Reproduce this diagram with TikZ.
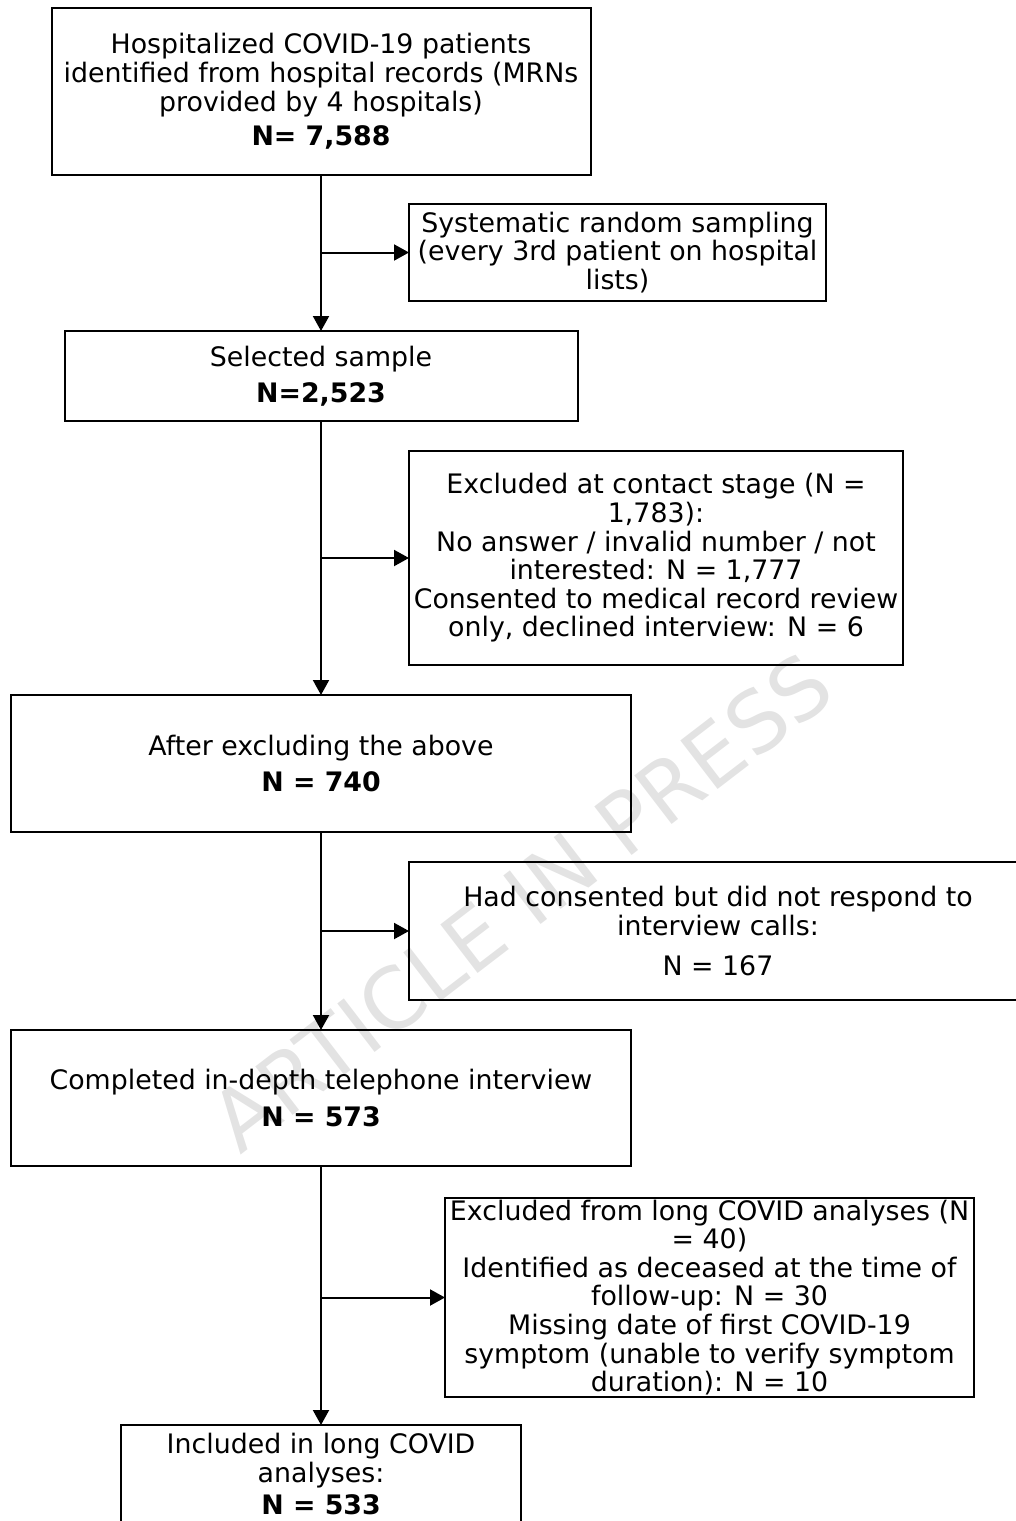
\documentclass[tikz,border=0pt]{standalone}
\usepackage{fontspec}
\setmainfont{DejaVu Sans}
\usetikzlibrary{positioning,arrows.meta}
\tikzset{
  box/.style={draw, line width=1pt, inner sep=0pt, outer sep=0pt, align=center,
    font=\fontsize{13.4}{14.3}\selectfont},
  arr/.style={line width=1pt, -{Triangle[length=7.5pt,width=8pt]}},
  mark text/.style={text=black!11, rotate=37.5, font=\fontsize{42}{42}\selectfont},
}
\begin{document}
\begin{tikzpicture}[x=0.5pt,y=-0.5pt]
\useasboundingbox (0,0) rectangle (1016,1521);
\node[mark text] (wmark) at (521,902) {ARTICLE IN PRESS};

\node[box, minimum width=269.5pt, minimum height=83.5pt] (hosp) at (321,91.5) {Hospitalized COVID-19 patients\\identified from hospital records (MRNs\\provided by 4 hospitals)\\[3pt]\textbf{N= 7,588}};
\node[box, minimum width=208.5pt, minimum height=48.5pt] (samp) at (617.5,252.5) {Systematic random sampling\\(every 3rd patient on hospital\\lists)};
\node[box, minimum width=256.5pt, minimum height=45pt] (sel) at (321,376) {Selected sample\\[3.5pt]\textbf{N=2,523}};
\node[box, minimum width=247pt, minimum height=107pt] (excl) at (656,558) {Excluded at contact stage (N =\\1,783):\\No answer / invalid number / not\\interested: N = 1,777\\Consented to medical record review\\only, declined interview: N = 6};
\node[box, minimum width=310pt, minimum height=68.5pt] (after) at (321,763.5) {After excluding the above\\[4pt]\textbf{N = 740}};
\node[box, minimum width=309pt, minimum height=69pt] (nores) at (718,931) {Had consented but did not respond to\\interview calls:\\[6pt]N = 167};
\node[box, minimum width=310pt, minimum height=68pt] (comp) at (321,1098) {Completed in-depth telephone interview\\[4.5pt]\textbf{N = 573}};
\node[box, minimum width=264.5pt, minimum height=99.5pt] (longx) at (709.5,1297.5) {Excluded from long COVID analyses (N\\= 40)\\Identified as deceased at the time of\\follow-up: N = 30\\Missing date of first COVID-19\\symptom (unable to verify symptom\\duration): N = 10};
\node[box, minimum width=200pt, minimum height=49pt] (incl) at (321,1474) {Included in long COVID\\analyses:\\[2pt]\textbf{N = 533}};

\draw[arr] (hosp.south) -- (sel.north);
\draw[arr] (sel.south) -- (after.north);
\draw[arr] (after.south) -- (comp.north);
\draw[arr] (comp.south) -- (incl.north);
\draw[arr] (hosp.south |- samp.west) -- (samp.west);
\draw[arr] (sel.south |- excl.west) -- (excl.west);
\draw[arr] (after.south |- nores.west) -- (nores.west);
\draw[arr] (comp.south |- longx.west) -- (longx.west);
\end{tikzpicture}
\end{document}
